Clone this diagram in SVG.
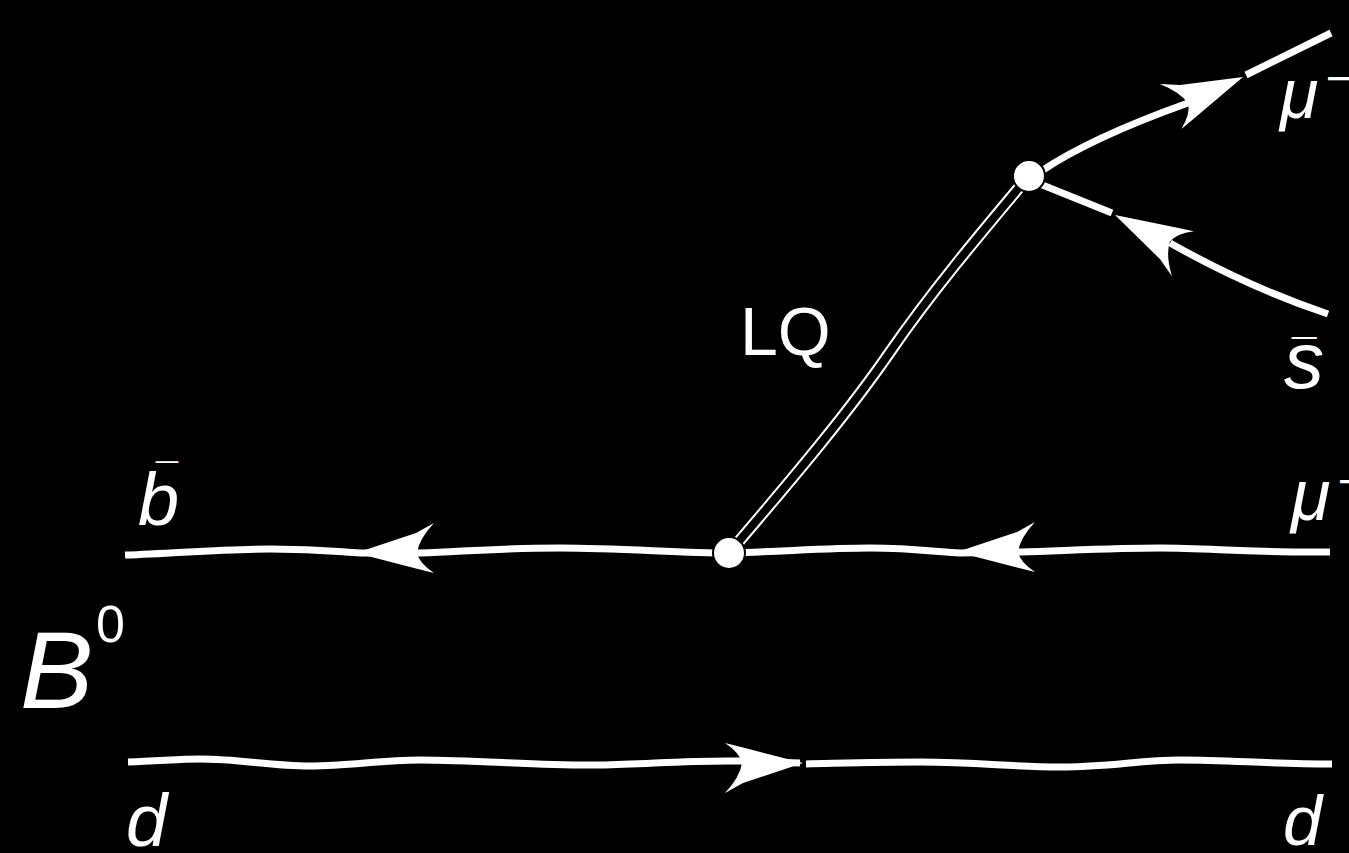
<svg xmlns="http://www.w3.org/2000/svg" width="1349" height="853" viewBox="0 0 1349 853">
<style>
.f{fill:none;stroke:#fff;stroke-width:7;stroke-linecap:butt}
.lqo{fill:none;stroke:#fff;stroke-width:12}
.lqi{fill:none;stroke:#000;stroke-width:8}
.arr{fill:#fff;stroke:none}
.v{fill:#fff;stroke:#000;stroke-width:2}
.it{font-family:"Liberation Sans",Arial,sans-serif;font-style:italic;fill:#fff}
.up{font-family:"Liberation Sans",Arial,sans-serif;fill:#fff}
</style>
<defs>
<path id="ah" d="M0,0 L-60,-20 L-78,-30 Q-63,-14 -61,0 Q-63,10 -78,20 L-58,15 Z"/>
</defs>
<rect x="0" y="0" width="1349" height="853" fill="#000"/>
<g id="connectors">
<path class="f" d="M125,555 C180,553 220,549 270,549 C320,549 340,552 360,553 L420,553 C470,551 500,548 560,548 C620,548 680,553 729,553"/>
<path class="f" d="M729,553 C790,551 830,548 870,548 C910,548 940,552 960,553 L1020,552 C1080,550 1120,548 1160,548 C1210,548 1250,553 1330,552"/>
<path class="f" d="M128,762 C160,761 180,759 200,759 C240,759 270,766 310,766 C350,766 380,760 420,760 C480,760 540,766 600,765 C650,764 690,760 740,761 L800,763"/>
<path class="f" d="M806,764 C850,763 880,762 920,762 C980,762 1010,767 1060,767 C1110,767 1140,760 1180,760 C1230,760 1270,764 1332,764"/>
<path class="f" d="M1040,172 Q1090,138 1188,103"/>
<path class="f" d="M1246,75 L1331,33"/>
<path class="f" d="M1040,184 L1112,213"/>
<path class="f" d="M1170,243 Q1250,288 1328,314"/>
<path class="lqo" d="M729,553 C800,470 850,410 890,352 C930,294 975,240 1028,177"/>
<path class="lqi" d="M729,553 C800,470 850,410 890,352 C930,294 975,240 1028,177"/>
<use href="#ah" class="arr" transform="translate(356,553) scale(-1,1)"/>
<use href="#ah" class="arr" transform="translate(957,552) scale(-1,1)"/>
<use href="#ah" class="arr" transform="translate(803,763) scale(1,-1)"/>
<use href="#ah" class="arr" transform="translate(1243,77) rotate(-25.8)"/>
<use href="#ah" class="arr" transform="translate(1115,215) rotate(206)"/>
</g>
<g id="vertex1"><circle class="v" cx="729" cy="553" r="16"/></g>
<g id="vertex2"><circle class="v" cx="1029" cy="176" r="16"/></g>
<g id="label-LQ"><text class="up" x="740" y="355" font-size="68">LQ</text></g>
<g id="label-mu-top"><text class="it" x="1280" y="118" font-size="70">μ</text><text class="up" x="1326" y="94" font-size="46">−</text></g>
<g id="label-sbar"><text class="it" x="1284" y="388" font-size="80">s</text><text class="up" x="1292" y="371" font-size="44">¯</text></g>
<g id="label-mu-mid"><text class="it" x="1291" y="520" font-size="72">μ</text><text class="up" x="1338" y="497" font-size="46">−</text></g>
<g id="label-d-right"><text class="it" x="1283" y="845" font-size="70">d</text></g>
<g id="label-bbar"><text class="it" x="138" y="525" font-size="74">b</text><text class="up" x="156" y="492" font-size="40">¯</text></g>
<g id="label-B0"><text class="it" x="20" y="708" font-size="110">B</text><text class="up" x="96" y="642" font-size="52">0</text></g>
<g id="label-d-left"><text class="it" x="126" y="846" font-size="74">d</text></g>
</svg>
